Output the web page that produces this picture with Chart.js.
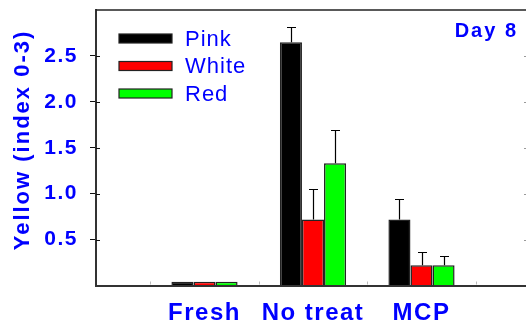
<!DOCTYPE html>
<html>
<head>
<meta charset="utf-8">
<script src="https://cdn.jsdelivr.net/npm/chart.js@4/dist/chart.umd.min.js"></script>
<style>
  html, body { margin: 0; padding: 0; overflow: hidden; background: #fff; }
  canvas { display: block; }
</style>
</head>
<body>
<canvas id="c" width="530" height="324"></canvas>
<script>
// Yellowing index on day 8, by flesh colour and treatment
const categories = ['Fresh', 'No treat', 'MCP'];
const seriesNames = ['Pink', 'White', 'Red'];
const pinkValues  = [0.04, 2.65, 0.72];
const whiteValues = [0.04, 0.72, 0.22];
const redValues   = [0.04, 1.33, 0.22];
const pinkErr  = [0, 0.17, 0.22];
const whiteErr = [0, 0.33, 0.15];
const redErr   = [0, 0.36, 0.10];
const yTicks = [0.5, 1.0, 1.5, 2.0, 2.5];

const BLUE = '#0000ff';
const fills = ['#000000', '#ff0000', '#00ff00'];
const values = [pinkValues, whiteValues, redValues];
const errors = [pinkErr, whiteErr, redErr];

// empty slots on both ends give the half-gap margins of the category axis
const labels = ['', ...categories, ''];
const pad = arr => [null, ...arr, null];

const datasets = seriesNames.map((name, i) => ({
  label: name,
  data: pad(values[i]),
  backgroundColor: fills[i],
  borderColor: '#222',
  borderWidth: 1.5,
  categoryPercentage: 0.61,
  barPercentage: 1.0
}));

const decor = {
  id: 'decor',
  beforeDraw(chart) {
    chart.ctx.letterSpacing = '1.5px';
  },
  afterDraw(chart) {
    const { ctx, chartArea: a, scales: { x, y } } = chart;
    ctx.save();
    ctx.letterSpacing = '0px';

    // top frame line
    ctx.strokeStyle = '#222';
    ctx.lineWidth = 1.5;
    ctx.beginPath();
    ctx.moveTo(a.left, a.top);
    ctx.lineTo(a.right + 2, a.top);
    ctx.stroke();

    // inner stubs of the left ticks and faint ticks on the right edge
    yTicks.forEach(v => {
      const py = Math.round(y.getPixelForValue(v)) + 0.5;
      ctx.strokeStyle = '#111';
      ctx.lineWidth = 1;
      ctx.beginPath();
      ctx.moveTo(a.left, py);
      ctx.lineTo(a.left + 4, py);
      ctx.stroke();
      ctx.strokeStyle = '#999';
      ctx.beginPath();
      ctx.moveTo(a.right - 6, py);
      ctx.lineTo(a.right, py);
      ctx.stroke();
    });

    // faint minor ticks between categories on the bottom axis
    ctx.strokeStyle = '#bbb';
    ctx.lineWidth = 1;
    for (let i = 0; i < labels.length - 1; i++) {
      const px = Math.round((x.getPixelForValue(i) + x.getPixelForValue(i + 1)) / 2) + 0.5;
      ctx.beginPath();
      ctx.moveTo(px, a.bottom - 1);
      ctx.lineTo(px, a.bottom - 4);
      ctx.stroke();
    }

    // upper error bars
    ctx.strokeStyle = '#000';
    ctx.lineWidth = 1.2;
    seriesNames.forEach((_, i) => {
      const meta = chart.getDatasetMeta(i);
      errors[i].forEach((e, j) => {
        if (!e) return;
        const bar = meta.data[j + 1];
        const px = Math.round(bar.x) + 0.5;
        const y0 = y.getPixelForValue(values[i][j]);
        const y1 = Math.round(y.getPixelForValue(values[i][j] + e)) + 0.5;
        ctx.beginPath();
        ctx.moveTo(px, y0);
        ctx.lineTo(px, y1);
        ctx.moveTo(px - 4.5, y1);
        ctx.lineTo(px + 4.5, y1);
        ctx.stroke();
      });
    });

    // legend inside the plot
    ctx.font = '22px "Liberation Sans", Arial, sans-serif';
    ctx.letterSpacing = '1px';
    ctx.textBaseline = 'middle';
    ctx.textAlign = 'left';
    seriesNames.forEach((name, i) => {
      const cy = 38.5 + i * 27.5;
      ctx.fillStyle = fills[i];
      ctx.fillRect(119, cy - 4.5, 53, 9);
      ctx.strokeStyle = '#222';
      ctx.lineWidth = 1.2;
      ctx.strokeRect(119, cy - 4.5, 53, 9);
      ctx.fillStyle = BLUE;
      ctx.fillText(name, 185, cy + 1);
    });

    // panel tag
    ctx.font = 'bold 20px "Liberation Sans", Arial, sans-serif';
    ctx.letterSpacing = '2px';
    ctx.textAlign = 'right';
    ctx.textBaseline = 'alphabetic';
    ctx.fillText('Day 8', 518, 36.5);

    // y-axis title
    ctx.font = 'bold 22px "Liberation Sans", Arial, sans-serif';
    ctx.letterSpacing = '2px';
    ctx.textAlign = 'center';
    ctx.textBaseline = 'middle';
    ctx.translate(23, 140);
    ctx.rotate(-Math.PI / 2);
    ctx.fillText('Yellow (index 0-3)', 0, 0);
    ctx.restore();
  }
};

new Chart(document.getElementById('c'), {
  type: 'bar',
  data: { labels, datasets },
  options: {
    responsive: false,
    animation: false,
    layout: { padding: { top: 10, left: 0, right: 0, bottom: 0 } },
    plugins: { legend: { display: false }, tooltip: { enabled: false } },
    scales: {
      x: {
        offset: false,
        grid: { display: false },
        border: { color: '#333', width: 2 },
        ticks: {
          color: BLUE,
          font: { family: '"Liberation Sans", Arial, sans-serif', size: 24, weight: 'bold' },
          padding: 5,
          maxRotation: 0,
          autoSkip: false
        },
        afterFit(s) {
          s.height = 38.5;
          s.paddingLeft = 0; s.paddingRight = 0;
        }
      },
      y: {
        min: 0,
        max: 3,
        grid: {
          drawOnChartArea: false,
          tickLength: 6,
          tickWidth: 1,
          color: c => (c.tick && yTicks.includes(c.tick.value)) ? '#111' : 'rgba(0,0,0,0)'
        },
        border: { color: '#333', width: 2 },
        afterBuildTicks(s) {
          s.ticks = [0, ...yTicks, 3].map(v => ({ value: v }));
        },
        ticks: {
          color: BLUE,
          font: { family: '"Liberation Sans", Arial, sans-serif', size: 21, weight: 'bold' },
          padding: 12,
          callback: v => yTicks.includes(v) ? v.toFixed(1) : ''
        },
        afterFit(s) {
          s.width = 96;
          s.paddingTop = 0; s.paddingBottom = 0;
        }
      }
    }
  },
  plugins: [decor]
});
</script>
</body>
</html>
